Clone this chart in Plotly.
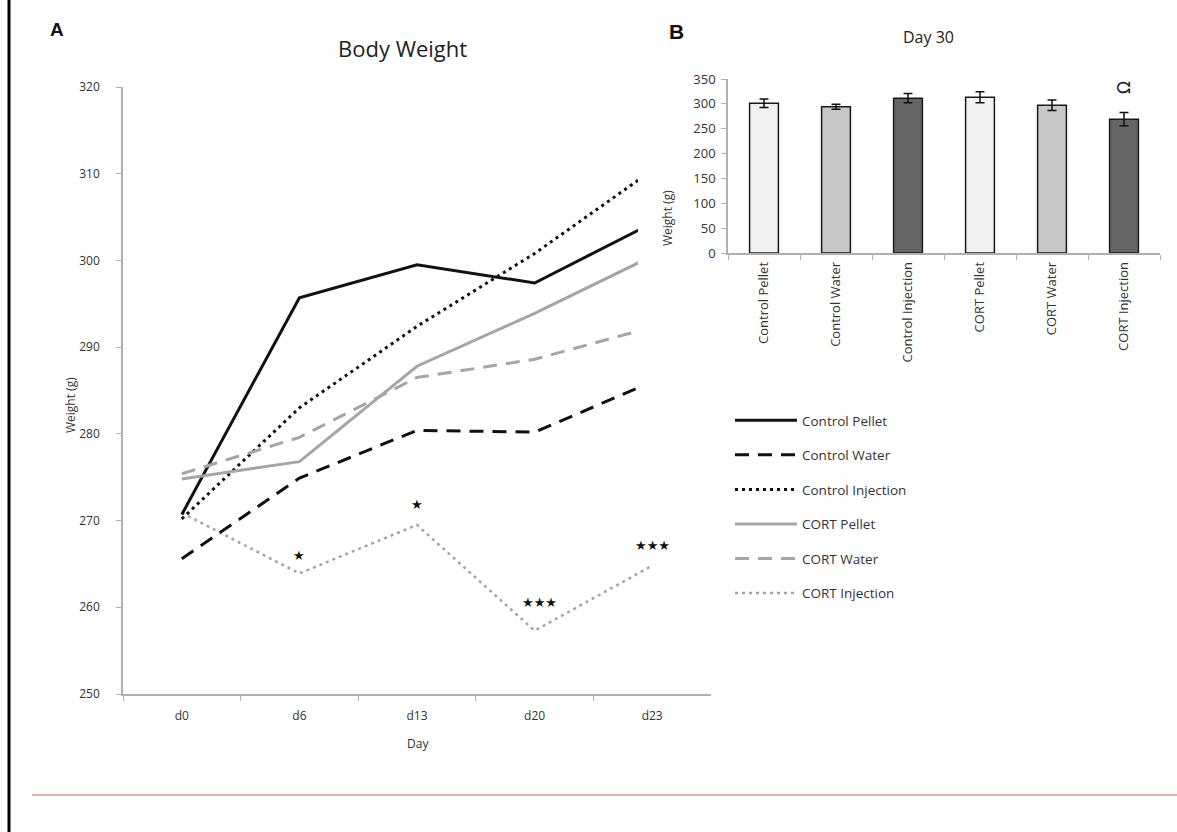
import plotly.graph_objects as go

# ---------------- data ----------------
days = ["d0", "d6", "d13", "d20", "d23"]
control_pellet = [270.7, 295.7, 299.5, 297.4, 304.3]
control_water = [265.6, 274.9, 280.4, 280.2, 286.0]
control_injection = [270.2, 283.0, 292.4, 300.8, 310.4]
cort_pellet = [274.8, 276.8, 287.8, 293.9, 300.5]
cort_water = [275.4, 279.6, 286.5, 288.6, 292.3]
cort_injection = [270.9, 263.9, 269.5, 257.3, 264.8]

star_days = ["d6", "d13", "d20", "d23"]
star_text = ["★", "★", "★★★", "★★★"]
star_y = [266.0, 271.8, 260.6, 267.1]

groups = ["Control Pellet", "Control Water", "Control Injection",
          "CORT Pellet", "CORT Water", "CORT Injection"]
day30_weight = [301.3, 294.0, 311.5, 313.4, 297.3, 269.2]
day30_err = [8.4, 5.0, 9.4, 11.0, 10.7, 13.4]
day30_mark_group = "CORT Injection"
day30_mark_y = 332

W, H = 1177, 832


def px(x):
    return x / W


def py(y):
    return 1 - y / H


BLACK = "#111111"
GRAY = "#a5a5a5"
FONT = "Open Sans, Lato, sans-serif"
TXT = "#333333"

fig = go.Figure()

line_specs = [
    ("Control Pellet", control_pellet, BLACK, "solid", 3),
    ("Control Water", control_water, BLACK, "14px,9px", 3),
    ("Control Injection", control_injection, BLACK, "3px,4px", 3),
    ("CORT Pellet", cort_pellet, GRAY, "solid", 3),
    ("CORT Water", cort_water, GRAY, "14px,9px", 3),
    ("CORT Injection", cort_injection, GRAY, "3px,4px", 2.5),
]
for i, (name, vals, col, dash, w) in enumerate(line_specs):
    axis = "x" if name == "CORT Injection" else "x3"
    fig.add_trace(go.Scatter(
        x=days, y=vals, name=name, mode="lines",
        line=dict(color=col, dash=dash, width=w),
        xaxis=axis, yaxis="y", legendgroup=f"g{i}", showlegend=True,
    ))

fig.add_trace(go.Bar(
    x=groups, y=day30_weight, xaxis="x2", yaxis="y2",
    marker=dict(color=["#f2f2f2", "#c8c8c8", "#666666"] * 2,
                line=dict(color="#1a1a1a", width=1.5)),
    width=0.4,
    error_y=dict(type="data", array=day30_err, color="#111111",
                 thickness=1.5, width=4.5),
    showlegend=False,
))

# panel A plot area (pixels)
ax_l, ax_r, ax_t, ax_b = 123, 711, 87, 694
clip_r = 638
cat_w = (ax_r - ax_l) / len(days)

axis_line = dict(showline=True, linecolor="#b0b0b0", linewidth=1.5,
                 showgrid=False, zeroline=False, automargin=False)

fig.update_layout(
    width=W, height=H,
    margin=dict(l=0, r=0, t=0, b=0, pad=0, autoexpand=False),
    paper_bgcolor="white", plot_bgcolor="rgba(0,0,0,0)",
    font=dict(family=FONT, color=TXT, size=12),
    xaxis=dict(domain=[px(ax_l), px(ax_r)], anchor="y", type="category",
               categoryarray=days, range=[-0.5, len(days) - 0.5],
               tickson="boundaries", ticks="outside", ticklen=5,
               tickcolor="#b0b0b0", tickwidth=1, ticklabelstandoff=10,
               tickfont=dict(size=12, color=TXT), **axis_line),
    xaxis3=dict(domain=[px(ax_l), px(clip_r)], anchor="y", type="category",
                categoryarray=days,
                range=[-0.5, -0.5 + (clip_r - ax_l) / cat_w],
                visible=False, showgrid=False, zeroline=False),
    yaxis=dict(domain=[py(ax_b), py(ax_t)], anchor="x", range=[250, 320],
               dtick=10, ticks="outside", ticklen=5, tickcolor="#b0b0b0",
               ticklabelstandoff=14,
               tickfont=dict(size=12, color=TXT), **axis_line),
    xaxis2=dict(domain=[px(728), px(1160)], anchor="y2", type="category",
                categoryarray=groups, range=[-0.5, len(groups) - 0.5],
                tickson="boundaries", ticks="outside", ticklen=5,
                tickcolor="#b0b0b0", tickangle=-90, ticklabelstandoff=2,
                tickfont=dict(size=13, color=TXT), **axis_line),
    yaxis2=dict(domain=[py(253), py(79)], anchor="x2", range=[0, 350],
                dtick=50, ticks="outside", ticklen=5, tickcolor="#b0b0b0",
                ticklabelstandoff=3,
                tickfont=dict(size=13, color=TXT), **axis_line),
    legend=dict(x=px(730), y=py(405), xanchor="left", yanchor="top",
                font=dict(size=13.5, color=TXT), tracegroupgap=14,
                bgcolor="rgba(0,0,0,0)", itemwidth=62),
    bargap=0.6,
)


def label(text, x, y, size, angle=0, color=TXT, family=None):
    f = dict(size=size, color=color)
    if family:
        f["family"] = family
    return dict(text=text, x=px(x), y=py(y), xref="paper", yref="paper",
                xanchor="center", yanchor="middle", showarrow=False,
                textangle=angle, font=f)


ann = [
    label("Body Weight", 402, 48, 22, color="#222222"),
    label("Day 30", 928, 37, 16, color="#222222"),
    label("<b>A</b>", 57, 30, 19, color="#111111", family="Arial"),
    label("<b>B</b>", 676, 31, 21, color="#111111", family="Arial"),
    label("Weight (g)", 70, 405, 12, angle=-90),
    label("Day", 418, 743, 12),
    label("Weight (g)", 667, 218, 12, angle=-90),
]
for d, t, yv in zip(star_days, star_text, star_y):
    ann.append(dict(text=t, x=d, y=yv, xref="x", yref="y", showarrow=False,
                    xanchor="center", yanchor="middle",
                    xshift=5 if d == "d20" else 0,
                    font=dict(size=13, color="#111111",
                              family="DejaVu Sans")))
ann.append(dict(text="Ω", x=day30_mark_group, y=day30_mark_y, xref="x2",
                yref="y2", showarrow=False, textangle=-90,
                xanchor="center", yanchor="middle",
                font=dict(size=17, color="#222222", family="DejaVu Sans")))
fig.update_layout(annotations=ann)

fig.add_shape(type="line", xref="paper", yref="paper",
              x0=px(9), x1=px(9), y0=0, y1=1,
              line=dict(color="black", width=3))
fig.add_shape(type="line", xref="paper", yref="paper",
              x0=px(32), x1=1, y0=py(795), y1=py(795),
              line=dict(color="#d0625b", width=1))

fig.write_html("out.html", config={"displayModeBar": False},
               post_script="document.body.style.margin='0';"
                           "document.body.style.overflow='hidden';")
